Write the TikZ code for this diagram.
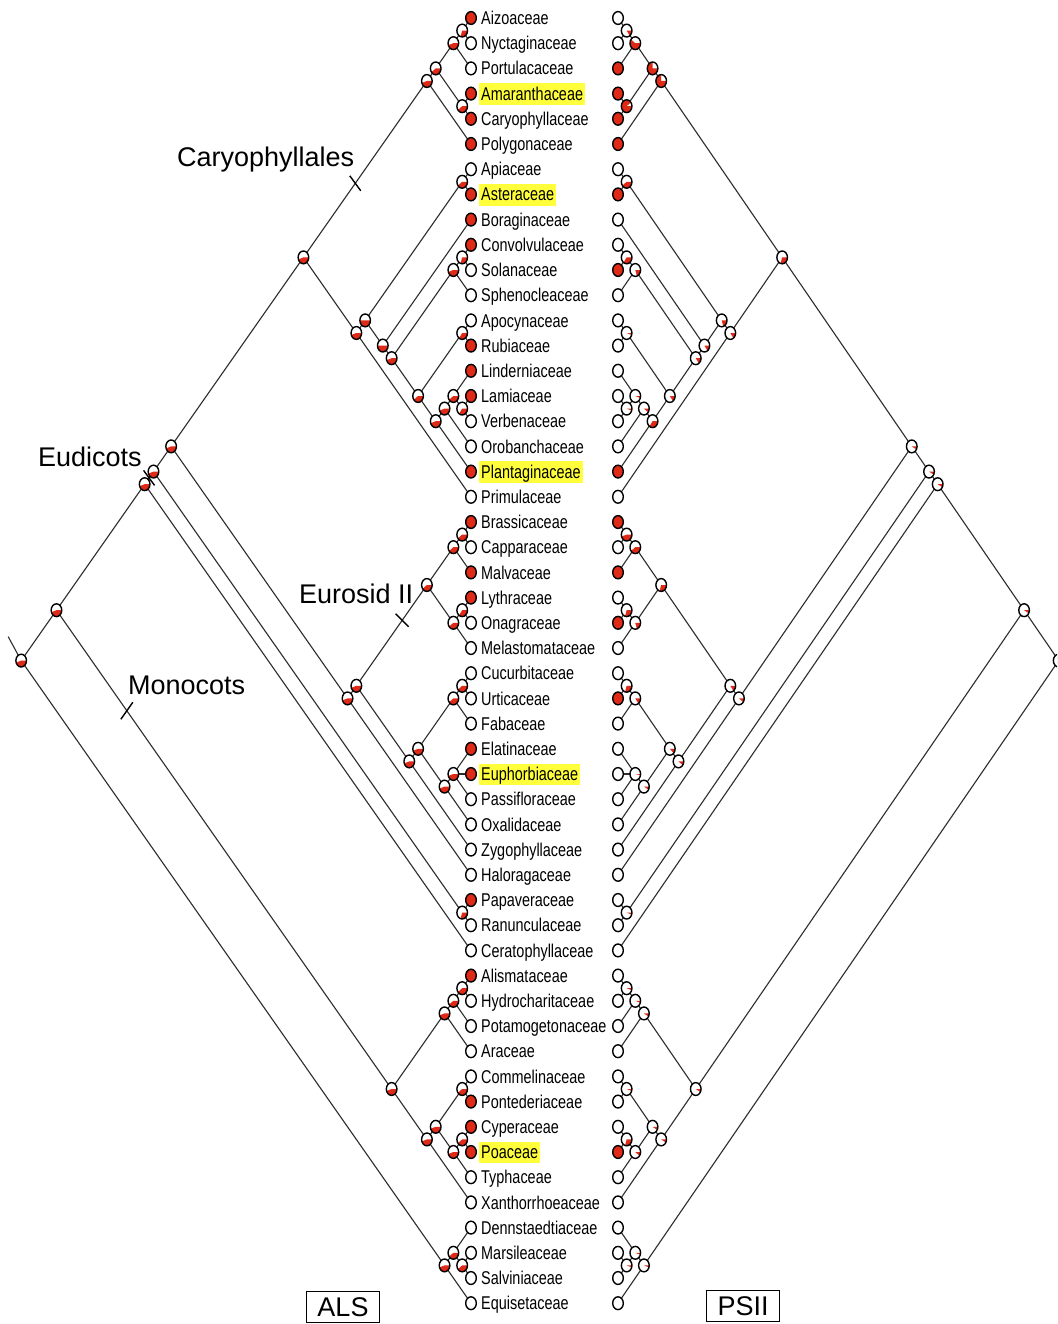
\documentclass[tikz,border=0pt]{standalone}
\usepackage{fontspec}
\setmainfont{Liberation Sans}
\newfontfamily\taxfont[FakeStretch=0.78]{Liberation Sans}
\usetikzlibrary{calc}
\definecolor{piered}{RGB}{222,42,22}
\definecolor{hly}{RGB}{255,255,60}
\definecolor{branchcol}{RGB}{45,45,45}
\newcommand\mkclade[2]{%
  \pgfmathsetmacro\cly{18+25.2*((#1+#2)/2-1)}%
  \pgfmathsetmacro\clxl{471-8.82*(#2-#1)}%
  \pgfmathsetmacro\clxr{618+8.64*(#2-#1)}%
  \coordinate (L#1-#2) at (\clxl,\cly);%
  \coordinate (R#1-#2) at (\clxr,\cly);%
}
\newcommand\drawpie[2]{%
  \fill[white] (#1) ellipse [x radius=5.3, y radius=6.4];%
  \ifdim #2pt>0pt
    \fill[piered] (#1) -- ++(5.3,0) arc [start angle=0, end angle={360*#2}, x radius=5.3, y radius=6.4] -- cycle;%
  \fi
  \draw[pieline] (#1) ellipse [x radius=5.3, y radius=6.4];%
}
\begin{document}
\begin{tikzpicture}[x=1pt, y=-1pt,
  branch/.style={draw=branchcol, line width=1.1pt},
  pieline/.style={draw=black, line width=1.4pt},
  taxon/.style={font=\taxfont\fontsize{18.5}{20}\selectfont, inner xsep=2pt, inner ysep=1.3pt, text height=15.5pt, text depth=3.3pt, anchor=base west},
  cladelab/.style={font=\fontsize{27}{30}\selectfont, inner sep=0pt, anchor=base west},
  tickmark/.style={draw=black, line width=1.4pt},
  boxlab/.style={draw=black, line width=1.2pt, font=\fontsize{27}{30}\selectfont, inner sep=0pt, minimum width=73pt, minimum height=31pt}]
\path[use as bounding box, fill=white] (0,0) rectangle (1057,1324);
\clip (0,0) rectangle (1057,1324);

% tips
\foreach \i in {1,...,52} {\mkclade{\i}{\i}}
% clades
\foreach \a/\b in {1/2,1/3,4/5,1/5,1/6,7/8,10/11,10/12,13/14,16/17,15/17,15/18,15/19,13/19,10/19,9/19,7/19,7/20,1/20,
  21/22,21/23,24/25,24/26,21/26,27/28,27/29,30/32,30/33,27/33,27/34,21/34,21/35,1/35,36/37,1/37,1/38,
  39/40,39/41,39/42,43/44,45/46,45/47,43/47,43/48,39/48,1/48,50/51,49/51,49/52,1/52} {\mkclade{\a}{\b}}

% branches
\foreach \p/\c in {1-2/1-1,1-2/2-2,1-3/1-2,1-3/3-3,4-5/4-4,4-5/5-5,1-5/1-3,1-5/4-5,1-6/1-5,1-6/6-6,
  7-8/7-7,7-8/8-8,10-11/10-10,10-11/11-11,10-12/10-11,10-12/12-12,13-14/13-13,13-14/14-14,
  16-17/16-16,16-17/17-17,15-17/15-15,15-17/16-17,15-18/15-17,15-18/18-18,15-19/15-18,15-19/19-19,
  13-19/13-14,13-19/15-19,10-19/10-12,10-19/13-19,9-19/9-9,9-19/10-19,7-19/7-8,7-19/9-19,
  7-20/7-19,7-20/20-20,1-20/1-6,1-20/7-20,
  21-22/21-21,21-22/22-22,21-23/21-22,21-23/23-23,24-25/24-24,24-25/25-25,24-26/24-25,24-26/26-26,
  21-26/21-23,21-26/24-26,27-28/27-27,27-28/28-28,27-29/27-28,27-29/29-29,
  30-32/30-30,30-32/31-31,30-32/32-32,30-33/30-32,30-33/33-33,27-33/27-29,27-33/30-33,
  27-34/27-33,27-34/34-34,21-34/21-26,21-34/27-34,21-35/21-34,21-35/35-35,1-35/1-20,1-35/21-35,
  36-37/36-36,36-37/37-37,1-37/1-35,1-37/36-37,1-38/1-37,1-38/38-38,
  39-40/39-39,39-40/40-40,39-41/39-40,39-41/41-41,39-42/39-41,39-42/42-42,
  43-44/43-43,43-44/44-44,45-46/45-45,45-46/46-46,45-47/45-46,45-47/47-47,
  43-47/43-44,43-47/45-47,43-48/43-47,43-48/48-48,39-48/39-42,39-48/43-48,
  1-48/1-38,1-48/39-48,50-51/50-50,50-51/51-51,49-51/49-49,49-51/50-51,
  49-52/49-51,49-52/52-52,1-52/1-48,1-52/49-52}
  {\draw[branch] (L\p) -- (L\c); \draw[branch] (R\p) -- (R\c);}

% root stems
\coordinate (Lstem) at ($(L1-52)+(-13,-24)$);
\coordinate (Rstem) at ($(R1-52)+(13,-24)$);
\draw[branch] (L1-52) -- (Lstem);
\draw[branch] (R1-52) -- (Rstem);

% clade ticks
\coordinate (tkC) at ($(L1-20)!0.42!(L1-6)$);
\coordinate (tkE) at ($(L1-38)!0.5!(L1-37)$);
\coordinate (tkR) at ($(L21-34)!0.65!(L21-26)$);
\coordinate (tkM) at ($(L1-48)!0.21!(L39-48)$);
\draw[tickmark] ($(tkC)+(-5.5,-7.5)$) -- ($(tkC)+(5.5,7.5)$);
\draw[tickmark] ($(tkE)+(-5.5,-7.5)$) -- ($(tkE)+(5.5,7.5)$);
\draw[tickmark] ($(tkR)+(-6.5,-6.5)$) -- ($(tkR)+(6.5,6.5)$);
\draw[tickmark] ($(tkM)+(-6,8.5)$) -- ($(tkM)+(6,-8.5)$);

% internal node pies: clade / ALS fraction / PSII fraction
\foreach \n/\fl/\fr in {1-2/0.3/0.15,1-3/0.45/0.6,4-5/0.4/0.9,1-5/0.4/0.75,1-6/0.45/0.75,
  7-8/0.4/0.4,10-11/0.3/0.35,10-12/0.45/0.2,13-14/0.35/0.05,16-17/0.35/0.05,15-17/0.4/0.05,
  15-18/0.45/0.1,15-19/0.45/0.35,13-19/0.4/0.15,10-19/0.45/0.15,9-19/0.5/0.15,7-19/0.5/0.2,
  7-20/0.45/0.15,1-20/0.45/0.3,21-22/0.4/0.45,21-23/0.4/0.4,24-25/0.35/0.3,24-26/0.4/0.2,
  21-26/0.4/0.3,27-28/0.4/0.3,27-29/0.4/0.15,30-32/0.45/0.03,30-33/0.45/0.08,27-33/0.45/0.12,
  27-34/0.45/0.1,21-34/0.45/0.15,21-35/0.45/0.1,1-35/0.45/0.08,36-37/0.3/0.05,1-37/0.45/0.08,
  1-38/0.45/0.08,39-40/0.4/0.05,39-41/0.4/0.05,39-42/0.45/0.08,43-44/0.4/0.05,45-46/0.4/0.3,
  45-47/0.45/0.1,43-47/0.45/0.08,43-48/0.45/0.08,39-48/0.45/0.08,1-48/0.45/0.08,
  50-51/0.4/0.05,49-51/0.4/0.05,49-52/0.45/0.05,1-52/0.45/0.08}
  {\drawpie{L\n}{\fl}\drawpie{R\n}{\fr}}

% tips: index / name / highlight / ALS state / PSII state
\foreach \i/\nm/\hc/\sl/\sr in {1/Aizoaceae/none/1/0,2/Nyctaginaceae/none/0/0,3/Portulacaceae/none/0/1,
  4/Amaranthaceae/hly/1/1,5/Caryophyllaceae/none/1/1,6/Polygonaceae/none/1/1,7/Apiaceae/none/0/0,
  8/Asteraceae/hly/1/1,9/Boraginaceae/none/1/0,10/Convolvulaceae/none/1/0,11/Solanaceae/none/0/1,
  12/Sphenocleaceae/none/0/0,13/Apocynaceae/none/0/0,14/Rubiaceae/none/1/0,15/Linderniaceae/none/1/0,
  16/Lamiaceae/none/1/0,17/Verbenaceae/none/0/0,18/Orobanchaceae/none/0/0,19/Plantaginaceae/hly/1/1,
  20/Primulaceae/none/0/0,21/Brassicaceae/none/1/1,22/Capparaceae/none/0/0,23/Malvaceae/none/1/1,
  24/Lythraceae/none/1/0,25/Onagraceae/none/0/1,26/Melastomataceae/none/0/0,27/Cucurbitaceae/none/0/0,
  28/Urticaceae/none/0/1,29/Fabaceae/none/0/0,30/Elatinaceae/none/1/0,31/Euphorbiaceae/hly/1/0,
  32/Passifloraceae/none/0/0,33/Oxalidaceae/none/0/0,34/Zygophyllaceae/none/0/0,35/Haloragaceae/none/0/0,
  36/Papaveraceae/none/1/0,37/Ranunculaceae/none/0/0,38/Ceratophyllaceae/none/0/0,39/Alismataceae/none/1/0,
  40/Hydrocharitaceae/none/0/0,41/Potamogetonaceae/none/0/0,42/Araceae/none/0/0,43/Commelinaceae/none/0/0,
  44/Pontederiaceae/none/1/0,45/Cyperaceae/none/1/0,46/Poaceae/hly/1/1,47/Typhaceae/none/0/0,
  48/Xanthorrhoeaceae/none/0/0,49/Dennstaedtiaceae/none/0/0,50/Marsileaceae/none/0/0,
  51/Salviniaceae/none/0/0,52/Equisetaceae/none/0/0}
  {\drawpie{L\i-\i}{\sl}\drawpie{R\i-\i}{\sr}
   \node[taxon, fill=\hc] (T\i) at ($(L\i-\i)+(8,6.6)$) {\nm};}

% clade labels
\node[cladelab] (labC) at (177,167) {Caryophyllales};
\node[cladelab] (labE) at (38,466) {Eudicots};
\node[cladelab] (labR) at (299,603) {Eurosid II};
\node[cladelab] (labM) at (128,694) {Monocots};

% tree labels
\node[boxlab] (als) at (343,1307) {ALS};
\node[boxlab] (psii) at (743,1306) {PSII};
\end{tikzpicture}
\end{document}
